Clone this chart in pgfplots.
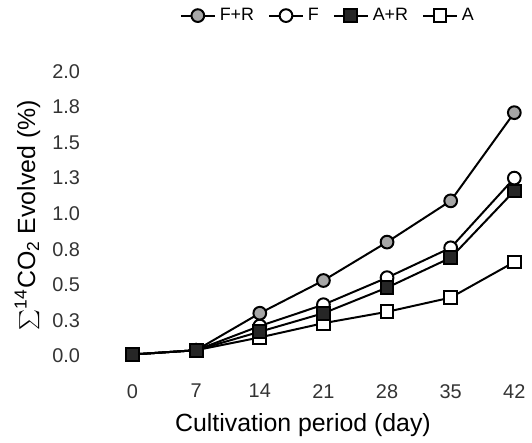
\documentclass[border=0pt]{standalone}
\usepackage{fontspec}
\setmainfont{Liberation Sans}
\usepackage{pgfplots}
\pgfplotsset{compat=1.18}
\begin{document}
\begin{tikzpicture}
\begin{axis}[
    scale only axis,
    width=217pt, height=153.7pt,
    xmin=-5, xmax=42.5,
    ymin=-0.15, ymax=2.0,
    clip=false,
    axis line style={draw=none},
    tick style={draw=none},
    xtick={0,7,14,21,28,35,42},
    ytick={0,0.25,0.5,0.75,1.0,1.25,1.5,1.75,2.0},
    yticklabels={0.0,0.3,0.5,0.8,1.0,1.3,1.5,1.8,2.0},
    /pgf/number format/assume math mode=true,
    tick label style={font=\fontsize{10}{12}\selectfont, text=black!80},
    label style={font=\fontsize{12.5}{15}\selectfont},
    xlabel={Cultivation period (day)},
    ylabel={$\sum$\textsuperscript{14}CO\textsubscript{2} Evolved (\%)},
    xlabel style={at={(axis description cs:0.5,-0.155)}, anchor=center},
    ylabel style={at={(axis description cs:-0.138,0.53)}, anchor=center},
    legend columns=4,
    legend style={draw=none, fill=none, at={(0.56,1)}, anchor=south, yshift=20pt,
        font=\fontsize{9}{11}\selectfont,
        /tikz/every even column/.append style={column sep=5pt}},
    legend cell align=left,
    every axis plot/.append style={line width=1pt, black, mark size=3.2pt},
]
% legend order as in the reference
\addlegendimage{mark=*, mark options={fill=black!35}}
\addlegendentry{F+R}
\addlegendimage{mark=*, mark options={fill=white}}
\addlegendentry{F}
\addlegendimage{mark=square*, mark options={fill=black!85}}
\addlegendentry{A+R}
\addlegendimage{mark=square*, mark options={fill=white}}
\addlegendentry{A}

% A
\addplot[mark=square*, mark options={fill=white}, forget plot] coordinates {
(0,0.01) (7,0.04) (14,0.13) (21,0.23) (28,0.31) (35,0.41) (42,0.66)};
% F
\addplot[mark=*, mark options={fill=white}, forget plot] coordinates {
(0,0.01) (7,0.04) (14,0.21) (21,0.36) (28,0.55) (35,0.76) (42,1.25)};
% F+R
\addplot[mark=*, mark options={fill=black!35}, forget plot] coordinates {
(0,0.01) (7,0.04) (14,0.30) (21,0.53) (28,0.80) (35,1.09) (42,1.71)};
% A+R
\addplot[mark=square*, mark options={fill=black!85}, forget plot] coordinates {
(0,0.01) (7,0.04) (14,0.17) (21,0.30) (28,0.48) (35,0.69) (42,1.16)};
\end{axis}
% small left margin so the y label is not flush with the edge
\path ([xshift=-4pt]current bounding box.west) -- (current bounding box.west);
\end{tikzpicture}
\end{document}
